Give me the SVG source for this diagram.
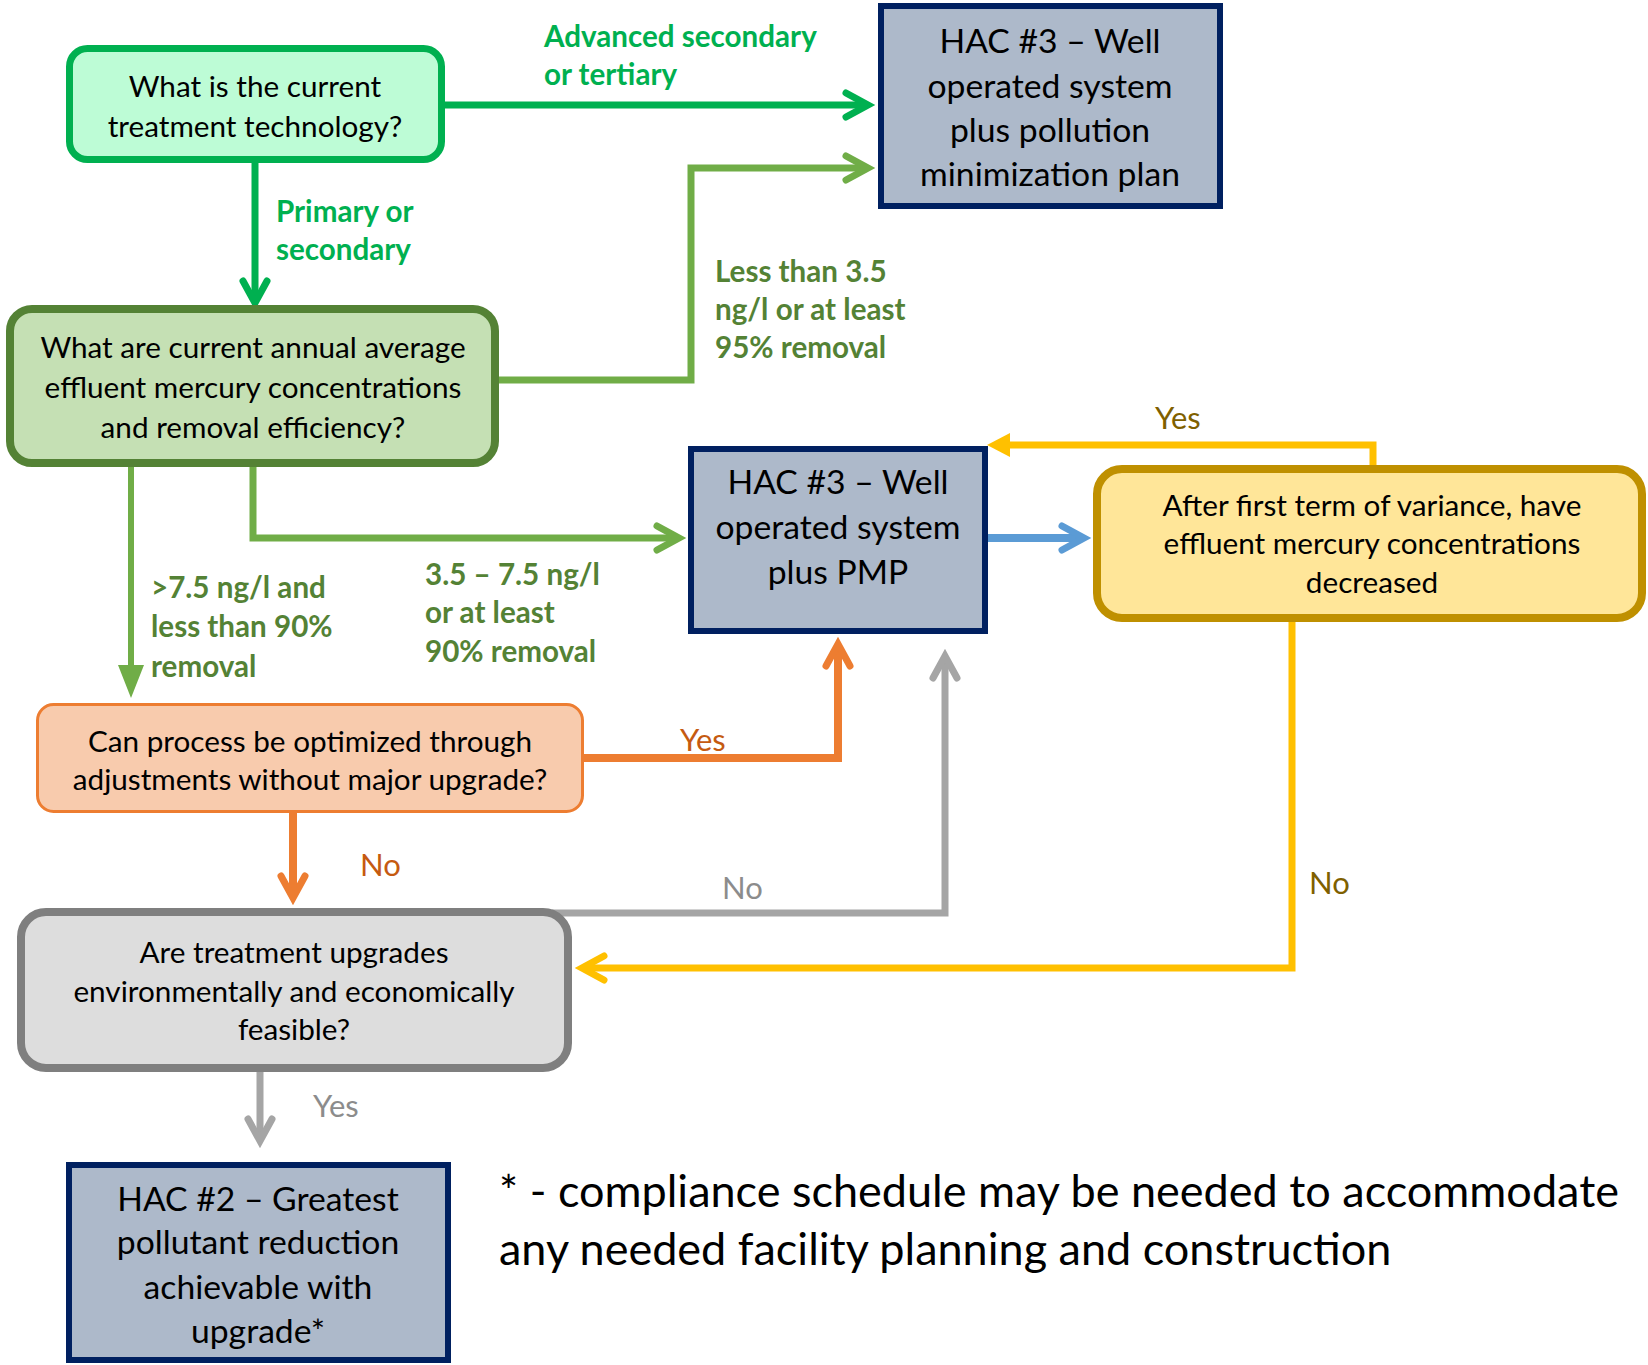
<svg xmlns="http://www.w3.org/2000/svg" width="1648" height="1365" viewBox="0 0 1648 1365">
<style>
  text { font-family: Lato, "Liberation Sans", sans-serif; }
  .t28 { font-size: 29.7px; fill: #000; text-anchor: middle; }
  .t32 { font-size: 33.7px; fill: #000; text-anchor: middle; }
  .lbl { font-size: 29.6px; font-weight: bold; }
  .g1 { fill: #00B050; }
  .g2 { fill: #548235; }
  .yn { font-size: 31px; }
  .c { fill: none; stroke-linejoin: miter; }
  .hac { fill: #ADB9CA; stroke: #002060; stroke-width: 6; }
</style>
<defs>
  <marker id="chG1" markerUnits="userSpaceOnUse" orient="auto" refX="0" refY="0" viewBox="-30 -20 45 40" markerWidth="45" markerHeight="40" overflow="visible">
    <path d="M-22,-12 L0,0 L-22,12" fill="none" stroke="#00B050" stroke-width="7" stroke-linecap="round" stroke-linejoin="miter"/>
  </marker>
  <marker id="chG2" markerUnits="userSpaceOnUse" orient="auto" refX="0" refY="0" viewBox="-30 -20 45 40" markerWidth="45" markerHeight="40" overflow="visible">
    <path d="M-22,-12 L0,0 L-22,12" fill="none" stroke="#70AD47" stroke-width="7" stroke-linecap="round" stroke-linejoin="miter"/>
  </marker>
  <marker id="chO" markerUnits="userSpaceOnUse" orient="auto" refX="0" refY="0" viewBox="-30 -20 45 40" markerWidth="45" markerHeight="40" overflow="visible">
    <path d="M-22,-12 L0,0 L-22,12" fill="none" stroke="#ED7D31" stroke-width="7" stroke-linecap="round" stroke-linejoin="miter"/>
  </marker>
  <marker id="chGr" markerUnits="userSpaceOnUse" orient="auto" refX="0" refY="0" viewBox="-30 -20 45 40" markerWidth="45" markerHeight="40" overflow="visible">
    <path d="M-22,-12 L0,0 L-22,12" fill="none" stroke="#A5A5A5" stroke-width="7" stroke-linecap="round" stroke-linejoin="miter"/>
  </marker>
  <marker id="chB" markerUnits="userSpaceOnUse" orient="auto" refX="0" refY="0" viewBox="-30 -20 45 40" markerWidth="45" markerHeight="40" overflow="visible">
    <path d="M-22,-12 L0,0 L-22,12" fill="none" stroke="#5B9BD5" stroke-width="7" stroke-linecap="round" stroke-linejoin="miter"/>
  </marker>
  <marker id="chY" markerUnits="userSpaceOnUse" orient="auto" refX="0" refY="0" viewBox="-30 -20 45 40" markerWidth="45" markerHeight="40" overflow="visible">
    <path d="M-22,-12 L0,0 L-22,12" fill="none" stroke="#FFC000" stroke-width="7" stroke-linecap="round" stroke-linejoin="miter"/>
  </marker>
  <marker id="trG2" markerUnits="userSpaceOnUse" orient="auto" refX="0" refY="0" viewBox="-30 -20 45 40" markerWidth="45" markerHeight="40" overflow="visible">
    <path d="M10,0 L-23,-13 L-23,13 Z" fill="#70AD47"/>
  </marker>
  <marker id="trY" markerUnits="userSpaceOnUse" orient="auto" refX="0" refY="0" viewBox="-30 -20 45 40" markerWidth="45" markerHeight="40" overflow="visible">
    <path d="M10,0 L-13,-12 L-13,12 Z" fill="#FFC000"/>
  </marker>
</defs>
<rect width="1648" height="1365" fill="#FFFFFF"/>

<g id="connectors">
  <path class="c" d="M445,105 H868" stroke="#00B050" stroke-width="7" marker-end="url(#chG1)"/>
  <path class="c" d="M255,163 V303" stroke="#00B050" stroke-width="7" marker-end="url(#chG1)"/>
  <path class="c" d="M499,380 H691 V168 H868" stroke="#70AD47" stroke-width="7" marker-end="url(#chG2)"/>
  <path class="c" d="M253,467 V538 H679" stroke="#70AD47" stroke-width="7" marker-end="url(#chG2)"/>
  <path class="c" d="M131,467 V688" stroke="#70AD47" stroke-width="6" marker-end="url(#trG2)"/>
  <path class="c" d="M584,758 H838 V644" stroke="#ED7D31" stroke-width="8" marker-end="url(#chO)"/>
  <path class="c" d="M293,813 V898" stroke="#ED7D31" stroke-width="8" marker-end="url(#chO)"/>
  <path class="c" d="M552,913 H945 V656" stroke="#A5A5A5" stroke-width="7" marker-end="url(#chGr)"/>
  <path class="c" d="M988,538 H1084" stroke="#5B9BD5" stroke-width="8" marker-end="url(#chB)"/>
  <path class="c" d="M1373,469 V445 H997" stroke="#FFC000" stroke-width="7" marker-end="url(#trY)"/>
  <path class="c" d="M1292,622 V968 H582" stroke="#FFC000" stroke-width="7" marker-end="url(#chY)"/>
  <path class="c" d="M260,1072 V1141" stroke="#A5A5A5" stroke-width="7" marker-end="url(#chGr)"/>
</g>

<g id="labels">
  <text class="lbl g1" x="544" y="47">Advanced secondary</text>
  <text class="lbl g1" x="544" y="85">or tertiary</text>
  <text class="lbl g1" x="276" y="222">Primary or</text>
  <text class="lbl g1" x="276" y="260">secondary</text>
  <text class="lbl g2" x="715" y="282">Less than 3.5</text>
  <text class="lbl g2" x="715" y="320">ng/l or at least</text>
  <text class="lbl g2" x="715" y="358">95% removal</text>
  <text class="lbl g2" x="151" y="598">&gt;7.5 ng/l and</text>
  <text class="lbl g2" x="151" y="637">less than 90%</text>
  <text class="lbl g2" x="151" y="677">removal</text>
  <text class="lbl g2" x="425" y="585">3.5 – 7.5 ng/l</text>
  <text class="lbl g2" x="425" y="623">or at least</text>
  <text class="lbl g2" x="425" y="662">90% removal</text>
  <text class="yn" x="680" y="751" fill="#C55A11">Yes</text>
  <text class="yn" x="360" y="876" fill="#C55A11">No</text>
  <text class="yn" x="722" y="899" fill="#8C8C8C">No</text>
  <text class="yn" x="1155" y="429" fill="#7F6000">Yes</text>
  <text class="yn" x="1309" y="894" fill="#7F6000">No</text>
  <text class="yn" x="313" y="1117" fill="#8C8C8C">Yes</text>
</g>

<g id="node-tech">
  <rect x="69.5" y="48.5" width="372" height="111" rx="18" fill="#BDFCD6" stroke="#00B050" stroke-width="7"/>
  <text class="t28" x="255" y="97">What is the current</text>
  <text class="t28" x="255" y="137">treatment technology?</text>
</g>

<g id="node-conc">
  <rect x="10" y="309" width="485" height="154" rx="22" fill="#C5E0B4" stroke="#548235" stroke-width="8"/>
  <text class="t28" x="253" y="358">What are current annual average</text>
  <text class="t28" x="253" y="398">effluent mercury concentrations</text>
  <text class="t28" x="253" y="438">and removal efficiency?</text>
</g>

<g id="node-hac3-pmp-plan">
  <rect class="hac" x="881" y="6" width="339" height="200"/>
  <text class="t32" x="1050" y="53">HAC #3 – Well</text>
  <text class="t32" x="1050" y="98">operated system</text>
  <text class="t32" x="1050" y="142">plus pollution</text>
  <text class="t32" x="1050" y="186">minimization plan</text>
</g>

<g id="node-hac3-pmp">
  <rect class="hac" x="691" y="449" width="294" height="182"/>
  <text class="t32" x="838" y="494">HAC #3 – Well</text>
  <text class="t32" x="838" y="539">operated system</text>
  <text class="t32" x="838" y="584">plus PMP</text>
</g>

<g id="node-variance">
  <rect x="1097" y="469" width="545" height="149" rx="25" fill="#FFE699" stroke="#BF9000" stroke-width="8"/>
  <text class="t28" x="1372" y="516">After first term of variance, have</text>
  <text class="t28" x="1372" y="554">effluent mercury concentrations</text>
  <text class="t28" x="1372" y="593">decreased</text>
</g>

<g id="node-optimize">
  <rect x="37.5" y="704.5" width="545" height="107" rx="16" fill="#F8CBAD" stroke="#ED7D31" stroke-width="3"/>
  <text class="t28" x="310" y="752">Can process be optimized through</text>
  <text class="t28" x="310" y="790">adjustments without major upgrade?</text>
</g>

<g id="node-upgrades">
  <rect x="21" y="912" width="547" height="156" rx="25" fill="#DDDDDD" stroke="#7F7F7F" stroke-width="8"/>
  <text class="t28" x="294" y="963">Are treatment upgrades</text>
  <text class="t28" x="294" y="1002">environmentally and economically</text>
  <text class="t28" x="294" y="1040">feasible?</text>
</g>

<g id="node-hac2">
  <rect class="hac" x="69" y="1165" width="379" height="195"/>
  <text class="t32" x="258" y="1211">HAC #2 – Greatest</text>
  <text class="t32" x="258" y="1254">pollutant reduction</text>
  <text class="t32" x="258" y="1299">achievable with</text>
  <text class="t32" x="258" y="1343">upgrade*</text>
</g>

<g id="footnote">
  <text x="499" y="1207" font-size="45" fill="#000">* - compliance schedule may be needed to accommodate</text>
  <text x="499" y="1265" font-size="45" fill="#000">any needed facility planning and construction</text>
</g>
</svg>
